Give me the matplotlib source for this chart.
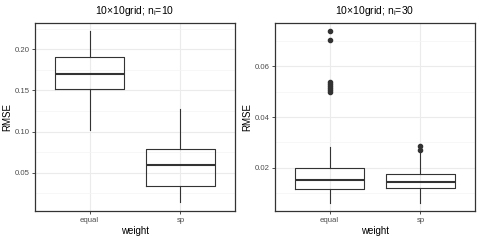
import numpy as np
import matplotlib
matplotlib.use("Agg")
import matplotlib.pyplot as plt

plt.rcParams['font.family'] = ['Liberation Sans', 'DejaVu Sans']
plt.rcParams['mathtext.default'] = 'regular'

# box statistics (RMSE by weight)
weights = ["equal", "sp"]

# panel 1: 10x10grid, n_i=10
p1_low = [0.1024, 0.0138]
p1_q1 = [0.1517, 0.0343]
p1_med = [0.1705, 0.0589]
p1_q3 = [0.1907, 0.0783]
p1_high = [0.222, 0.1275]
p1_out = [[], []]

# panel 2: 10x10grid, n_i=30
p2_low = [0.0060, 0.0060]
p2_q1 = [0.0115, 0.0119]
p2_med = [0.0152, 0.0143]
p2_q3 = [0.0199, 0.0174]
p2_high = [0.0283, 0.0265]
p2_out = [[0.0739, 0.0704, 0.0538, 0.0530, 0.0522, 0.0515, 0.0508, 0.0500],
          [0.0285, 0.0272]]

titles = ["10\u00d710grid; n$_{i}$=10", "10\u00d710grid; n$_{i}$=30"]
yticks = [[0.05, 0.10, 0.15, 0.20], [0.02, 0.04, 0.06]]
yminor = [[0.025, 0.075, 0.125, 0.175, 0.225], [0.01, 0.03, 0.05, 0.07]]
ylims = [(0.0034, 0.2324), (0.0030, 0.0772)]

fig = plt.figure(figsize=(4.8, 2.4), dpi=100)
W, H = 480, 240
axes = [fig.add_axes([35 / W, 1 - 211 / H, 200 / W, (211 - 22.7) / H]),
        fig.add_axes([275 / W, 1 - 211 / H, 200 / W, (211 - 22.7) / H])]

panels = [(p1_low, p1_q1, p1_med, p1_q3, p1_high, p1_out),
          (p2_low, p2_q1, p2_med, p2_q3, p2_high, p2_out)]

dark = "#333333"
for k, ax in enumerate(axes):
    low, q1, med, q3, high, out = panels[k]
    stats = []
    for j in range(len(weights)):
        stats.append(dict(whislo=low[j], q1=q1[j], med=med[j], q3=q3[j],
                          whishi=high[j], fliers=out[j], label=weights[j]))
    ax.bxp(stats, positions=[1, 2], widths=0.75, showfliers=True,
           boxprops=dict(color=dark, linewidth=0.8),
           whiskerprops=dict(color=dark, linewidth=0.8),
           capprops=dict(linewidth=0),
           medianprops=dict(color=dark, linewidth=1.5),
           flierprops=dict(marker='o', markersize=3.0, markerfacecolor=dark,
                           markeredgecolor=dark, linestyle='none'),
           zorder=3)
    ax.set_xlim(0.4, 2.6)
    ax.set_ylim(*ylims[k])
    ax.set_yticks(yticks[k])
    ax.set_yticklabels(["%.2f" % v for v in yticks[k]])
    ax.set_yticks(yminor[k], minor=True)
    ax.set_xticks([1, 2])
    ax.set_xticklabels(weights)
    ax.grid(True, which='major', color='#EBEBEB', linewidth=0.8, zorder=0)
    ax.grid(True, which='minor', axis='y', color='#F4F4F4', linewidth=0.5, zorder=0)
    ax.set_axisbelow(True)
    for s in ax.spines.values():
        s.set_color(dark)
        s.set_linewidth(0.9)
    ax.tick_params(which='major', length=2.5, width=0.6, color=dark,
                   labelsize=5.6, labelcolor='#4D4D4D', pad=1.5)
    ax.tick_params(which='minor', length=0)
    ax.set_xlabel("weight", fontsize=7, labelpad=2)
    ax.set_ylabel("RMSE", fontsize=7, labelpad=1.5)
    ax.set_title(titles[k], fontsize=7.5, pad=6)

fig.savefig("out.png", dpi=100)
